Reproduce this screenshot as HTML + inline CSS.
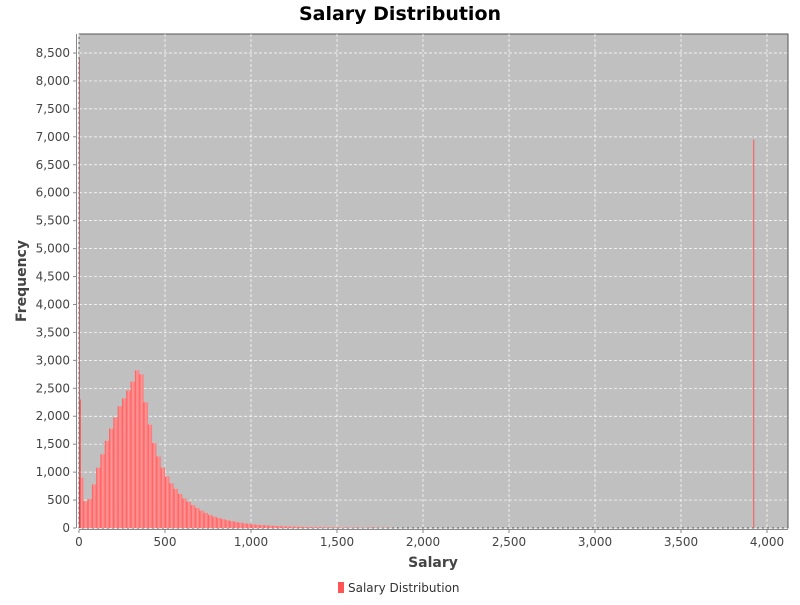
<!DOCTYPE html>
<html><head><meta charset="utf-8"><style>
body{margin:0;background:#fff;}
svg text{font-family:"DejaVu Sans","Liberation Sans",sans-serif;}
</style></head><body>
<svg id="chart" width="800" height="600" xmlns="http://www.w3.org/2000/svg">
<defs><linearGradient id="bg" x1="0" x2="1" y1="0" y2="0"><stop offset="0" stop-color="#ff5555"/><stop offset="0.5" stop-color="#ff9a9a"/><stop offset="1" stop-color="#ff7070"/></linearGradient></defs>
<text x="400" y="20" text-anchor="middle" font-size="19" font-weight="bold" fill="#000">Salary Distribution</text>
<rect x="79" y="34" width="709" height="494" fill="#c0c0c0" stroke="#555" stroke-width="1"/>
<g id="grid"></g><g id="bars"></g><g id="axes"></g>
<text x="433" y="567" text-anchor="middle" font-size="14" font-weight="bold" fill="#444">Salary</text>
<text transform="translate(26,281) rotate(-90)" text-anchor="middle" font-size="14" font-weight="bold" fill="#444">Frequency</text>
<g>
<rect x="338" y="582" width="6" height="11" fill="#ff5555"/>
<text x="348" y="592" font-size="12" fill="#333">Salary Distribution</text>
</g>
</svg>
<script>
const binStarts=[0,25,50,75,100,125,150,175,200,225,250,275,300,325,350,375,400,425,450,475,500,525,550,575,600,625,650,675,700,725,750,775,800,825,850,875,900,925,950,975,1000,1025,1050,1075,1100,1125,1150,1175,1200,1225,1250,1275,1300,1325,1350,1375,1400,1425,1450,1475,1500,1550,1600,1700,1800];
const freqs=[900,480,520,780,1080,1320,1560,1780,1980,2180,2320,2460,2620,2820,2750,2250,1850,1520,1280,1080,920,800,700,610,530,470,410,360,310,270,235,205,180,160,140,125,110,95,85,75,65,58,52,47,42,38,34,30,27,25,22,20,18,16,15,14,13,12,11,10,9,8,6,5,4];
const binWidth=25;
const spikeX=[0,5,3920];
const spikeF=[8400,2300,6950];
const xTicks=[0,500,1000,1500,2000,2500,3000,3500,4000];
const yTicks=[0,500,1000,1500,2000,2500,3000,3500,4000,4500,5000,5500,6000,6500,7000,7500,8000,8500];
const X0=79,Y0=528;
const sx=v=>X0+v*0.172, sy=v=>Y0-v*0.05588;
const NS="http://www.w3.org/2000/svg";
function mk(tag,parent,attrs){const e=document.createElementNS(NS,tag);for(const k in attrs)e.setAttribute(k,attrs[k]);parent.appendChild(e);return e;}
const grid=document.getElementById('grid'),bars=document.getElementById('bars'),axes=document.getElementById('axes');
xTicks.forEach(t=>{
 const l=mk('line',grid,{x1:sx(t),x2:sx(t),y1:34,y2:528,stroke:'#fff','stroke-width':0.7,'stroke-dasharray':'3,2'});
 
 
 const tk=mk('line',axes,{x1:sx(t),x2:sx(t),y1:530,y2:533,stroke:'#888'});
 
 
 const tx=mk('text',axes,{x:sx(t),y:546,'text-anchor':'middle','font-size':12,fill:'#444'});
 tx.textContent=t.toLocaleString('en-US');
 
 
});
yTicks.forEach(t=>{
 const l=mk('line',grid,{x1:79,x2:788,y1:sy(t),y2:sy(t),stroke:'#fff','stroke-width':0.7,'stroke-dasharray':'3,2'});
 
 
 const tk=mk('line',axes,{x1:73,x2:76,y1:sy(t),y2:sy(t),stroke:'#888'});
 
 
 const tx=mk('text',axes,{x:70,y:sy(t)+4,'text-anchor':'end','font-size':12,fill:'#444'});
 tx.textContent=t.toLocaleString('en-US');
 
 
});
binStarts.forEach((b,i)=>{
 const next=i+1<binStarts.length?binStarts[i+1]:b+binWidth;
 const r=mk('rect',bars,{x:sx(b),y:sy(freqs[i]),width:sx(next)-sx(b),height:Y0-sy(freqs[i]),fill:'url(#bg)'});
 
 
});
spikeX.forEach((s,i)=>{
 const r=mk('rect',bars,{x:sx(s),y:sy(spikeF[i]),width:i==0?0.6:1,height:Y0-sy(spikeF[i]),fill:i==0?'#a03030':'#ff5555'});
 
 
});
const ax=mk('line',axes,{x1:79,x2:788,y1:529.5,y2:529.5,stroke:'#888'});


const ay=mk('line',axes,{x1:76.5,x2:76.5,y1:34,y2:528,stroke:'#888'});


</script>
</body></html>
